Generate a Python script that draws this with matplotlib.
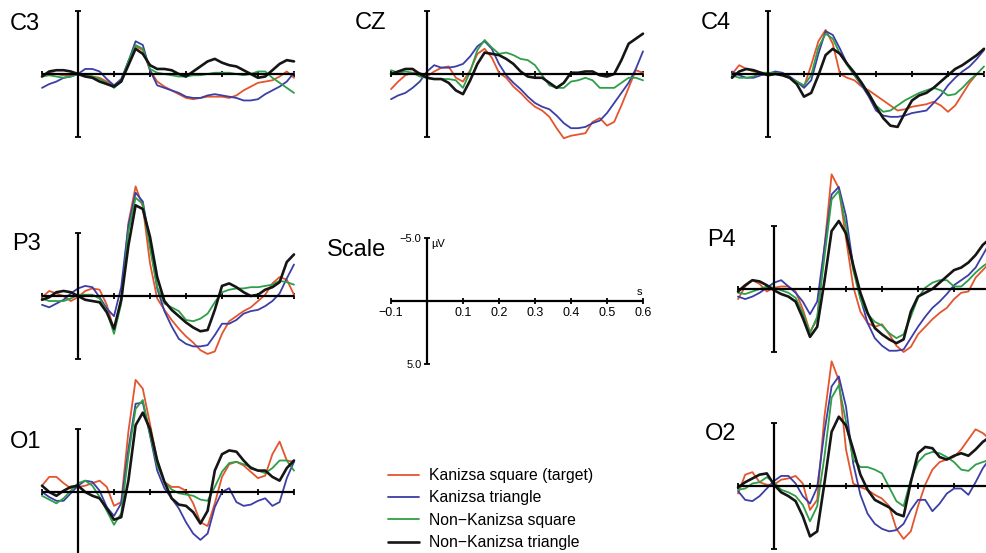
import matplotlib
matplotlib.use("Agg")
import matplotlib.pyplot as plt

plt.rcParams['font.family'] = ['Liberation Sans', 'DejaVu Sans']

# --- data (µV, negative plotted upward) ---
TIMES = [-0.10, -0.08, -0.06, -0.04, -0.02, 0.00, 0.02, 0.04, 0.06, 0.08,
         0.10, 0.12, 0.14, 0.16, 0.18, 0.20, 0.22, 0.24, 0.26, 0.28,
         0.30, 0.32, 0.34, 0.36, 0.38, 0.40, 0.42, 0.44, 0.46, 0.48,
         0.50, 0.52, 0.54, 0.56, 0.58, 0.60]

CONDITIONS = ["Kanizsa square (target)", "Kanizsa triangle",
              "Non\u2212Kanizsa square", "Non\u2212Kanizsa triangle"]
COLORS = ["#e4552d", "#3b3ea6", "#2e9e48", "#151515"]
WIDTHS = [1.3, 1.3, 1.3, 1.9]

C3 = {
    "sq":   [0.1, -0.1, 0, 0.1, 0.1, 0, 0.1, 0.2, 0.3, 0.6, 0.9, 0.6, -1.0, -2.2, -1.9, -0.3, 0.6, 1.0,
             1.3, 1.6, 1.9, 2.0, 1.9, 1.8, 1.8, 1.8, 1.9, 1.7, 1.3, 1.0, 0.7, 0.6, 0.5, 0.2, -0.2, 0.3],
    "tri":  [1.1, 0.8, 0.6, 0.3, 0.2, 0, -0.4, -0.4, -0.2, 0.4, 0.9, 0.4, -1.0, -2.6, -2.3, -0.3, 0.9, 1.1,
             1.3, 1.5, 1.8, 1.9, 1.9, 1.7, 1.6, 1.7, 1.8, 1.9, 2.1, 2.1, 2.0, 1.6, 1.3, 1.0, 0.6, -0.1],
    "nsq":  [0.2, 0.1, 0.2, 0.3, 0.2, 0, 0.1, 0.2, 0.4, 0.7, 1.1, 0.6, -1.0, -2.3, -2.0, -0.4, -0.1, 0,
             0.1, 0.2, 0.2, 0.1, 0.1, 0, -0.1, -0.1, -0.1, 0, 0.1, 0, -0.2, -0.2, 0.3, 0.7, 1.1, 1.5],
    "ntri": [0.2, -0.2, -0.3, -0.3, -0.2, 0, 0.2, 0.3, 0.6, 0.8, 1.0, 0.6, -0.7, -2.0, -1.6, -0.7, -0.4, -0.4,
             -0.3, 0, 0.2, -0.2, -0.6, -1.0, -1.2, -0.9, -0.7, -0.6, -0.3, 0, 0.3, 0.2, -0.3, -0.8, -1.1, -1.0],
}
CZ = {
    "sq":   [1.2, 0.6, 0.1, -0.1, -0.1, 0.2, -0.2, -0.5, -0.6, 0.3, 0.6, -0.3, -1.6, -2.0, -1.3, -0.1, 0.3, 1.0,
             1.5, 2.1, 2.6, 2.9, 3.4, 4.3, 5.1, 4.9, 4.8, 4.7, 3.8, 3.5, 4.1, 3.8, 2.5, 1.1, -0.3, -0.1],
    "tri":  [2.0, 1.7, 1.5, 1.1, 0.6, -0.2, -0.7, -0.5, -0.5, -0.6, -0.8, -1.4, -2.2, -2.6, -2.0, -0.8, 0.1, 0.7,
             1.2, 1.8, 2.3, 2.6, 2.8, 3.3, 3.9, 4.3, 4.3, 4.2, 3.9, 3.7, 3.1, 2.3, 1.5, 0.7, -0.4, -1.8],
    "nsq":  [-0.3, -0.1, -0.2, -0.1, 0.2, 0.3, 0.4, 0.4, 0.4, 0.5, 1.1, -0.2, -1.9, -2.7, -2.1, -1.6, -1.7, -1.5,
             -1.2, -1.1, -0.7, 0.1, 0.9, 1.1, 1.1, 0.6, 0.5, 0.3, 0.5, 1.1, 1.1, 1.1, 0.7, 0.3, 0.3, 0.5],
    "ntri": [0, -0.2, -0.4, -0.4, 0, 0.3, 0.4, 0.4, 0.7, 1.3, 1.6, 0.5, -0.8, -1.7, -1.6, -1.5, -1.2, -0.8,
             -0.2, 0.2, 0.3, 0.3, 0.7, 1.1, 0.7, -0.1, -0.1, -0.2, -0.2, 0.1, 0.2, 0, -1.1, -2.4, -2.8, -3.2],
}
C4 = {
    "sq":   [0, -0.7, -0.4, -0.2, -0.1, 0, -0.1, 0, 0.3, 0.6, 1.0, -0.7, -2.6, -3.5, -2.4, 0, 0.3, 0.5,
             1.0, 1.3, 1.7, 2.1, 2.5, 2.9, 2.8, 2.6, 2.5, 2.4, 2.2, 2.5, 3.0, 2.5, 1.6, 0.7, 0, 0],
    "tri":  [-0.2, 0.1, 0.3, 0.3, 0.1, 0, -0.2, -0.1, 0.2, 0.6, 1.1, 0.5, -1.6, -3.4, -3.1, -2.0, -0.8, 0.1,
             0.9, 1.8, 2.9, 3.3, 3.4, 3.4, 3.3, 3.1, 3.0, 2.9, 2.3, 1.7, 0.9, 0.3, -0.2, -0.6, -1.2, -1.9],
    "nsq":  [0.1, 0.3, 0.3, 0.2, -0.1, -0.1, -0.1, 0, 0.3, 0.6, 0.9, 0.1, -2.1, -3.2, -2.8, -1.6, -0.7, 0.1,
             0.8, 1.5, 2.5, 3.0, 2.9, 2.5, 2.1, 1.8, 1.5, 1.3, 1.1, 1.3, 1.7, 1.6, 1.1, 0.5, 0, -0.6],
    "ntri": [0.3, -0.2, -0.4, -0.3, -0.1, 0.1, 0, 0.1, 0.3, 0.8, 1.8, 1.5, 0.1, -1.5, -2.0, -1.6, -0.8, -0.1,
             0.7, 1.6, 2.6, 3.5, 4.1, 4.2, 3.1, 2.1, 1.7, 1.5, 1.1, 0.6, 0.1, -0.4, -0.7, -1.1, -1.5, -2.0],
}
P3 = {
    "sq":   [0.1, -0.4, -0.2, 0, 0.4, 0.1, -0.4, -0.6, -0.5, 0.7, 2.7, 0.3, -5.8, -8.7, -7.1, -2.6, 0.2, 1.1,
             1.9, 2.6, 3.2, 3.7, 4.3, 4.6, 4.4, 3.0, 2.0, 1.6, 1.2, 0.9, 0.4, -0.1, -1.0, -1.5, -1.3, -0.1],
    "tri":  [0.7, 0.9, 0.6, 0.3, -0.2, -0.6, -0.8, -0.7, 0.1, 1.0, 1.6, -0.7, -5.6, -8.2, -7.5, -4.2, -0.6, 1.2,
             2.4, 3.4, 3.8, 4.0, 4.0, 3.9, 3.1, 2.2, 2.2, 1.9, 1.4, 1.2, 1.1, 0.8, 0.4, -0.2, -1.4, -2.5],
    "nsq":  [0.2, 0.4, 0.4, 0.4, 0.2, -0.1, -0.1, -0.1, 0.2, 1.2, 3.0, 0.6, -5.1, -7.8, -7.3, -3.8, -0.7, 0.6,
             0.9, 1.2, 1.9, 2.0, 1.8, 1.4, 0.5, -0.3, -0.5, -0.6, -0.6, -0.7, -0.7, -0.8, -0.9, -1.2, -1.1, -0.9],
    "ntri": [0.3, 0.1, -0.3, -0.4, -0.3, 0, 0.3, 0.4, 0.5, 1.3, 2.6, 0.3, -4.0, -7.2, -6.9, -4.7, -1.5, 0.4,
             1.1, 1.6, 2.1, 2.5, 2.8, 2.7, 1.1, -0.8, -1.0, -0.7, -0.3, 0, -0.1, -0.5, -0.7, -1.1, -2.7, -3.3],
}
P4 = {
    "sq":   [0.8, -0.2, -0.7, -0.4, 0.2, -0.1, -0.2, -0.2, 0.2, 1.6, 3.4, 2.4, -3.3, -9.1, -8.0, -4.0, -0.2, 1.8,
             2.7, 3.0, 2.8, 3.6, 4.5, 5.0, 4.6, 3.6, 3.0, 2.4, 1.9, 1.5, 0.8, 0.3, 0.2, -0.9, -1.5, -2.1],
    "tri":  [0.6, 0.8, 0.6, 0.3, -0.1, -0.5, -0.7, -0.2, 0.3, 1.0, 2.0, 1.0, -3.3, -7.5, -8.1, -5.8, -1.8, 0.7,
             2.7, 3.9, 4.5, 4.9, 4.9, 4.8, 3.9, 3.0, 2.2, 1.5, 1.0, 0.4, -0.3, -0.7, -1.1, -1.7, -2.7, -3.7],
    "nsq":  [0.3, 0.4, 0.2, 0, -0.2, -0.1, 0.1, 0.3, 0.7, 1.9, 3.5, 2.2, -2.5, -7.1, -7.8, -5.0, -1.5, 0.8,
             2.0, 2.6, 2.9, 3.5, 3.9, 3.6, 2.2, 0.7, -0.1, -0.5, -0.7, -0.7, -0.2, -0.2, -0.7, -1.3, -1.8, -2.2],
    "ntri": [0.2, -0.3, -0.7, -0.6, -0.3, 0.1, 0.4, 0.6, 1.0, 2.3, 3.8, 3.0, -0.6, -4.6, -5.4, -4.4, -1.9, 0.3,
             1.9, 3.1, 3.6, 4.0, 4.3, 4.0, 1.8, 0.6, 0.3, 0, -0.5, -1.0, -1.5, -1.7, -2.1, -2.7, -3.5, -4.0],
}
O1 = {
    "sq":   [-0.5, -1.2, -1.2, -0.7, -0.3, -0.4, -0.5, -0.7, -0.9, -0.4, 1.1, 0.8, -4.8, -8.9, -8.2, -5.4, -2.5, -0.8,
             -0.4, -0.4, -0.1, 0.9, 2.4, 2.7, 0.9, -1.2, -2.2, -2.4, -2.1, -1.6, -1.1, -1.3, -3.0, -4.0, -2.5, -2.4],
    "tri":  [0, 0.4, 0.7, 0.7, 0.1, -0.5, -0.9, -0.8, -0.1, 1.2, 1.9, 0.9, -3.4, -7.0, -7.1, -4.5, -1.7, -0.3,
             0.5, 1.3, 2.4, 3.3, 3.8, 3.3, 1.2, 0, -0.3, 0.8, 1.1, 1.0, 0.7, 0.5, 1.1, 0.8, -1.1, -2.4],
    "nsq":  [0.3, 0.6, 0.9, 0.5, -0.1, -0.7, -0.9, -0.5, 0.4, 1.5, 2.6, 1.7, -2.9, -6.6, -7.3, -4.6, -2.1, -0.8,
             -0.2, 0.1, 0.2, 0.3, 0.6, 0.7, -0.4, -1.6, -2.3, -2.4, -2.2, -2.0, -1.7, -1.5, -1.9, -2.5, -2.5, -1.7],
    "ntri": [-0.5, 0, 0.3, -0.1, -0.4, -0.5, 0, 0.3, 0.5, 1.3, 2.2, 2.0, -0.9, -5.3, -6.3, -5.0, -2.5, -0.8,
             0.5, 1.0, 1.1, 1.6, 2.5, 1.5, -1.7, -3.0, -3.3, -3.2, -2.5, -1.9, -1.7, -1.7, -1.2, -0.9, -1.9, -2.5],
}
O2 = {
    "sq":   [0.6, -0.9, -1.1, -0.3, -0.1, -0.1, -0.5, -0.6, -0.8, -0.2, 1.9, 1.1, -5.5, -9.9, -8.4, -2.9, -0.2, 0.1,
             0.3, 0.7, 1.0, 1.6, 3.4, 4.2, 3.6, 1.6, -0.1, -1.3, -1.9, -2.1, -2.3, -2.9, -3.7, -4.5, -4.2, -3.7],
    "tri":  [0.4, 1.1, 1.2, 0.8, 0.2, -0.4, -0.8, -0.8, -0.2, 0.8, 1.4, 0.1, -4.3, -7.9, -8.7, -6.3, -1.8, 0.7,
             2.2, 3.0, 3.4, 3.6, 3.5, 3.0, 1.9, 1.1, 1.1, 2.0, 1.4, 0.6, 0.2, 0.2, 0.7, -0.3, -1.4, -2.2],
    "nsq":  [0.3, 0.2, -0.2, -0.3, -0.7, -0.3, 0.3, 0.5, 0.8, 1.5, 2.8, 1.6, -2.3, -7.0, -8.0, -5.1, -2.1, -1.5,
             -1.5, -1.3, -1.0, 0.1, 1.2, 1.6, -0.5, -1.9, -2.5, -2.7, -2.6, -2.3, -1.9, -1.3, -1.2, -1.7, -1.9, -2.1],
    "ntri": [0.1, -0.3, -0.6, -0.9, -1.0, -0.1, 0.5, 0.8, 1.2, 2.4, 4.0, 3.6, -0.2, -4.3, -5.5, -4.8, -2.9, -0.9,
             0.3, 1.1, 1.4, 1.7, 2.2, 2.4, -0.3, -2.6, -3.1, -3.0, -2.3, -2.1, -2.4, -2.6, -2.4, -2.9, -3.5, -3.9],
}
KEYS = ["sq", "tri", "nsq", "ntri"]

XTICKS = [-0.1, 0.1, 0.2, 0.3, 0.4, 0.5, 0.6]
XTICKLABELS = ["\u22120.1", "0.1", "0.2", "0.3", "0.4", "0.5", "0.6"]

# --- layout (pixels in a 986x553 canvas) ---
W, H = 986, 553
PX_S = 360.0    # pixels per second
PX_UV = 12.6    # pixels per µV

# name, data, origin x, origin y, label x, label y
PANELS = [
    ("C3", C3, 78, 74, 10, 24),
    ("CZ", CZ, 427, 74, 355, 23),
    ("C4", C4, 768, 74, 701, 23),
    ("P3", P3, 78, 296, 12, 244),
    ("P4", P4, 774, 289, 707, 240),
    ("O1", O1, 78, 492, 10, 442),
    ("O2", O2, 774, 486, 705, 434),
]


def make_axes(fig, x0, y0):
    left = (x0 - 0.1 * PX_S) / W
    bottom = 1 - (y0 + 5 * PX_UV) / H
    ax = fig.add_axes([left, bottom, 0.7 * PX_S / W, 10 * PX_UV / H])
    ax.set_xlim(-0.1, 0.6)
    ax.set_ylim(5, -5)
    ax.patch.set_visible(False)
    for s in ["top", "right"]:
        ax.spines[s].set_visible(False)
    ax.spines["left"].set_position(("data", 0))
    ax.spines["bottom"].set_position(("data", 0))
    for s in ["left", "bottom"]:
        ax.spines[s].set_linewidth(1.6)
        ax.spines[s].set_capstyle("butt")
    ax.set_xticks(XTICKS)
    ax.set_yticks([-5, 5])
    ax.tick_params(direction="inout", length=5, width=1.3,
                   labelbottom=False, labelleft=False)
    return ax


fig = plt.figure(figsize=(W / 100, H / 100), dpi=100)

handles = []
for name, data, x0, y0, lx, ly in PANELS:
    ax = make_axes(fig, x0, y0)
    lines = []
    for key, col, lw in zip(KEYS, COLORS, WIDTHS):
        ln, = ax.plot(TIMES, data[key], color=col, lw=lw, clip_on=False,
                      solid_joinstyle="round", solid_capstyle="round")
        lines.append(ln)
    if not handles:
        handles = lines
    fig.text(lx / W, 1 - ly / H, name, fontsize=17, va="center", ha="left")

# scale panel
sax = make_axes(fig, 427, 301)
sax.tick_params(labelbottom=True, labelleft=True, labelsize=9, pad=1.5)
sax.set_xticklabels(XTICKLABELS)
sax.set_yticklabels(["\u22125.0", "5.0"], fontsize=8)
sax.text(0.012, -4.5, "\u00b5V", fontsize=8, ha="left", va="center")
sax.text(0.59, -0.75, "s", fontsize=8, ha="center", va="center")
fig.text(327 / W, 1 - 250 / H, "Scale", fontsize=17, va="center", ha="left")

fig.legend(handles, CONDITIONS, loc="upper left",
           bbox_to_anchor=(388 / W, 1 - 468 / H), frameon=False,
           fontsize=11.3, handlelength=2.0, handletextpad=0.6,
           labelspacing=0.47, borderpad=0, borderaxespad=0)

fig.savefig("out.png", dpi=100)
